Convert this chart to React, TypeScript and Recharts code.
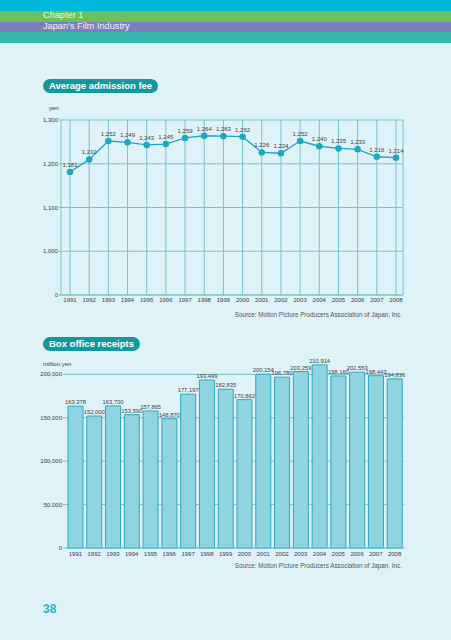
import {
  Bar,
  BarChart,
  CartesianGrid,
  LabelList,
  Line,
  LineChart,
  XAxis,
  YAxis,
} from "recharts";

const years = [
  "1991", "1992", "1993", "1994", "1995", "1996", "1997", "1998", "1999",
  "2000", "2001", "2002", "2003", "2004", "2005", "2006", "2007", "2008",
];

// yen
const admissionFee = [
  1181, 1210, 1252, 1249, 1243, 1245, 1259, 1264, 1263, 1262, 1226, 1224,
  1252, 1240, 1235, 1233, 1216, 1214,
];

// million yen
const boxOffice = [
  163378, 152000, 163700, 153590, 157865, 148870, 177197, 193499, 182835,
  170862, 200154, 196780, 203259, 210914, 198160, 202553, 198443, 194836,
];

// the fee axis is broken: the bottom line stands for 0
const feeTicks = [900, 1000, 1100, 1200, 1300];
const feeBreak = 900;
const receiptTicks = [0, 50000, 100000, 150000, 200000];

const SOURCE = "Source: Motion Picture Producers Association of Japan, Inc.";

const FONT = '"Liberation Sans", Arial, sans-serif';
const NARROW = '"Liberation Sans Narrow", "Liberation Sans", Arial, sans-serif';
const GRID = "#74c6cc";
const TEXT = "#3c3c3c";
const TEAL = "#15989c";

const fmt = (v: number) => Number(v).toLocaleString("en-US");
const feeTickFormat = (v: number) => (v === feeBreak ? "0" : fmt(v));

const feeData = years.map((year, i) => ({ year, fee: admissionFee[i] }));
const receiptData = years.map((year, i) => ({ year, receipts: boxOffice[i] }));

const yearTick = { fontSize: 6, fill: TEXT, fontFamily: NARROW };
const valueTick = { fontSize: 6, fill: TEXT, fontFamily: FONT };

function Pill({ text, top }: { text: string; top: number }) {
  return (
    <div
      style={{
        position: "absolute",
        left: 43,
        top,
        height: 14,
        padding: "0 6px",
        borderRadius: 7,
        background: TEAL,
        color: "#fff",
        fontWeight: "bold",
        fontSize: 9.5,
        lineHeight: "14px",
      }}
    >
      {text}
    </div>
  );
}

function Note({ text, left, top }: { text: string; left: number; top: number }) {
  return (
    <div style={{ position: "absolute", left, top, fontSize: 6, color: TEXT, fontFamily: NARROW }}>
      {text}
    </div>
  );
}

function Source({ top }: { top: number }) {
  return (
    <div
      style={{
        position: "absolute",
        left: 0,
        width: 402,
        top,
        textAlign: "right",
        fontSize: 6.3,
        color: "#555",
      }}
    >
      {SOURCE}
    </div>
  );
}

export default function App() {
  return (
    <div
      style={{
        position: "absolute",
        left: 0,
        top: 0,
        width: 451,
        height: 640,
        overflow: "hidden",
        background: "#dff2f8",
        fontFamily: FONT,
      }}
    >
      {/* header bands */}
      <div style={{ position: "absolute", left: 0, top: 0, width: 451, height: 11, background: "#00b8d9" }} />
      <div style={{ position: "absolute", left: 0, top: 11, width: 451, height: 11, background: "#6bbf5f" }} />
      <div style={{ position: "absolute", left: 0, top: 22, width: 451, height: 10, background: "#7a7fbf" }} />
      <div style={{ position: "absolute", left: 0, top: 32, width: 451, height: 11, background: "#34b7ad" }} />
      <div style={{ position: "absolute", left: 43, top: 10, fontSize: 9.2, color: "#eef6dc" }}>Chapter 1</div>
      <div style={{ position: "absolute", left: 43, top: 21, fontSize: 9.2, color: "#f2f2fa" }}>
        Japan’s Film Industry
      </div>

      <Pill text="Average admission fee" top={79} />
      <Note text="yen" left={49} top={105} />

      <div style={{ position: "absolute", left: 0, top: 100 }}>
        <LineChart width={451} height={210} data={feeData} margin={{ top: 20, right: 48, bottom: 3, left: 21 }}>
          <CartesianGrid stroke={GRID} strokeWidth={1} horizontalValues={feeTicks} />
          <XAxis
            dataKey="year"
            interval={0}
            padding={{ left: 9, right: 7 }}
            tickLine={false}
            axisLine={{ stroke: GRID }}
            tickSize={2}
            tickMargin={1}
            height={12}
            tick={yearTick}
          />
          <YAxis
            type="number"
            domain={[feeBreak, 1300]}
            ticks={feeTicks}
            interval={0}
            tickFormatter={feeTickFormat}
            axisLine={false}
            tickLine={{ stroke: GRID }}
            tickSize={2}
            tickMargin={1}
            width={40}
            tick={valueTick}
          />
          <Line
            type="linear"
            dataKey="fee"
            stroke="#1ea7c1"
            strokeWidth={1.3}
            dot={{ r: 2.6, fill: "#1ea7c1", stroke: "#1ea7c1" }}
            isAnimationActive={false}
          >
            <LabelList dataKey="fee" position="top" offset={5} formatter={fmt} fontSize={6} fill={TEXT} fontFamily={FONT} />
          </Line>
        </LineChart>
      </div>
      <Source top={311} />

      <Pill text="Box office receipts" top={337} />
      <Note text="million yen" left={43} top={361} />

      <div style={{ position: "absolute", left: 0, top: 345 }}>
        <BarChart width={451} height={218} data={receiptData} margin={{ top: 12, right: 47, bottom: 3, left: 20 }}>
          <CartesianGrid stroke={GRID} vertical={false} horizontalValues={receiptTicks} />
          <XAxis
            dataKey="year"
            interval={0}
            tickLine={false}
            axisLine={{ stroke: GRID }}
            tickSize={3}
            tickMargin={1}
            height={12}
            tick={yearTick}
          />
          <YAxis
            type="number"
            domain={[0, 220000]}
            ticks={receiptTicks}
            interval={0}
            tickFormatter={fmt}
            axisLine={false}
            tickLine={{ stroke: GRID }}
            tickSize={3}
            tickMargin={1}
            width={46}
            tick={valueTick}
          />
          <Bar dataKey="receipts" barSize={15} fill="#8fd4e1" stroke="#2fa7ba" strokeWidth={1} isAnimationActive={false}>
            <LabelList dataKey="receipts" position="top" offset={2} formatter={fmt} fontSize={5.8} fill={TEXT} fontFamily={FONT} />
          </Bar>
        </BarChart>
      </div>
      <Source top={562} />

      <div style={{ position: "absolute", left: 43, top: 602, fontSize: 12, fontWeight: "bold", color: "#2bb0c4" }}>
        38
      </div>
    </div>
  );
}
